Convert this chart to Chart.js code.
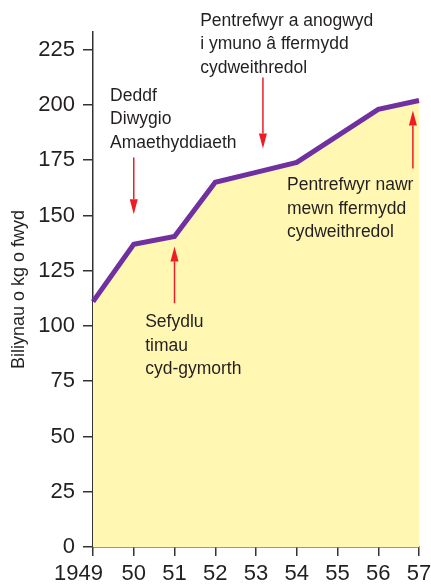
<!DOCTYPE html>
<html>
<head>
<meta charset="utf-8">
<script src="https://cdn.jsdelivr.net/npm/chart.js@4"></script>
<style>
  html, body { margin: 0; padding: 0; background: #fff; }
  #wrap { width: 431px; height: 588px; }
</style>
</head>
<body>
<div id="wrap"><canvas id="grainChart"></canvas></div>
<script>
// === Data ===
const years = ['1949', '50', '51', '52', '53', '54', '55', '56', '57'];
const grain = [111, 137, 140.5, 165, 169.5, 174, 186, 198, 202]; // billion kg
const yTicks = [0, 25, 50, 75, 100, 125, 150, 175, 200, 225];

// annotation text: x = category index, y = value of first line
const noteLines = [
    ['Pentrefwyr a anogwyd', 'i ymuno â ffermydd', 'cydweithredol'],
    ['Deddf', 'Diwygio', 'Amaethyddiaeth'],
    ['Sefydlu', 'timau', 'cyd-gymorth'],
    ['Pentrefwyr nawr', 'mewn ffermydd', 'cydweithredol']
];
const noteX = [2.63, 0.42, 1.28, 4.76];
const noteY = [238, 204, 101.7, 163.6];

// arrows: x index, tail value, tip value
const arrowX = [1.0, 2.0, 4.17, 7.85];
const arrowFrom = [176.2, 110.3, 212.4, 171.3];
const arrowTo = [150.5, 136, 180.3, 197.5];

const FONT = "'Liberation Sans', Arial, sans-serif";
const INK = '#231f20';
const RED = '#ee1c25';

const annotations = {
    id: 'annotations',
    afterDatasetsDraw(chart) {
        const { ctx, scales: { x, y } } = chart;
        ctx.save();

        // arrows
        ctx.strokeStyle = RED;
        ctx.fillStyle = RED;
        ctx.lineWidth = 1.5;
        arrowX.forEach((xi, i) => {
            const px = x.getPixelForValue(xi);
            const y0 = y.getPixelForValue(arrowFrom[i]);
            const y1 = y.getPixelForValue(arrowTo[i]);
            const dir = y1 > y0 ? 1 : -1;
            const head = 15;
            ctx.beginPath();
            ctx.moveTo(px, y0);
            ctx.lineTo(px, y1 - dir * head);
            ctx.stroke();
            ctx.beginPath();
            ctx.moveTo(px, y1);
            ctx.lineTo(px - 4, y1 - dir * head);
            ctx.lineTo(px + 4, y1 - dir * head);
            ctx.closePath();
            ctx.fill();
        });

        // text
        ctx.fillStyle = INK;
        ctx.font = '17.5px ' + FONT;
        ctx.textAlign = 'left';
        ctx.textBaseline = 'middle';
        noteLines.forEach((lines, i) => {
            const px = x.getPixelForValue(noteX[i]);
            const py = y.getPixelForValue(noteY[i]);
            lines.forEach((t, j) => ctx.fillText(t, px, py + j * 23.5));
        });
        ctx.restore();
    }
};

const ctx = document.getElementById('grainChart').getContext('2d');
new Chart(ctx, {
    type: 'line',
    data: {
        labels: years,
        datasets: [{
            data: grain,
            borderColor: '#7030a0',
            borderWidth: 5,
            backgroundColor: '#fff7b2',
            fill: 'origin',
            pointRadius: 0,
            tension: 0
        }]
    },
    options: {
        responsive: true,
        maintainAspectRatio: false,
        animation: false,
        layout: { padding: { top: 32, right: 0, left: 0, bottom: 0 } },
        plugins: {
            legend: { display: false },
            tooltip: { enabled: false }
        },
        scales: {
            x: {
                offset: false,
                afterFit: (scale) => {
                    scale.height = 41;
                    scale.paddingLeft = 0;
                    scale.paddingRight = 12;
                },
                grid: { display: true, drawOnChartArea: false, tickLength: 9, color: '#333', lineWidth: 1.5 },
                border: { color: '#333', width: 1.5 },
                ticks: {
                    color: INK,
                    font: { family: FONT, size: 22 },
                    padding: 5,
                    maxRotation: 0,
                    autoSkip: false,
                    // first label sits left of its tick in the original
                    callback: (v, i) => years[i] + (i === 0 ? '\u2007\u2007\u2009' : '')
                }
            },
            y: {
                min: 0,
                max: 233,
                afterBuildTicks: (scale) => { scale.ticks = yTicks.map(v => ({ value: v })); },
                afterFit: (scale) => { scale.width = 93; },
                grid: { display: true, drawOnChartArea: false, tickLength: 10, color: '#333', lineWidth: 1.5 },
                border: { color: '#333', width: 1.5 },
                ticks: { color: INK, font: { family: FONT, size: 22 }, padding: 8 },
                title: {
                    display: true,
                    text: 'Biliynau o kg o fwyd',
                    color: INK,
                    font: { family: FONT, size: 18 },
                    padding: { top: 8 }
                }
            }
        }
    },
    plugins: [annotations]
});
</script>
</body>
</html>
